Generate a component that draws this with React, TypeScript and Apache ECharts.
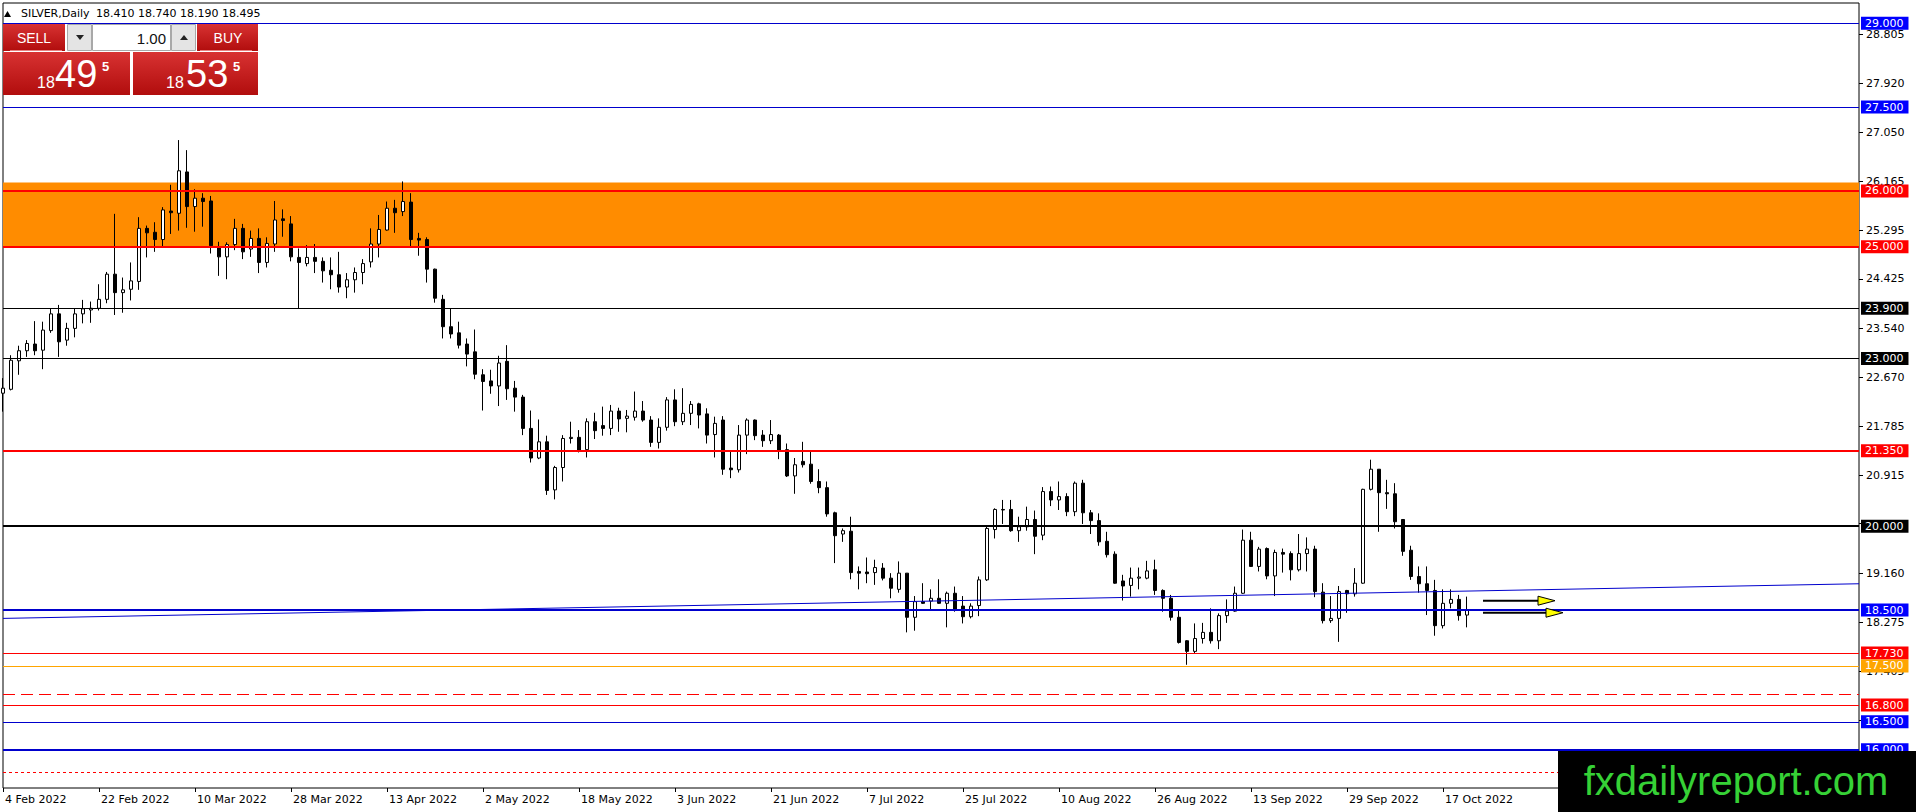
import React, { useEffect, useRef } from "react";
import * as echarts from "echarts";

// ---------- DATA ----------
const dateLabels = [
  "4 Feb 2022", "22 Feb 2022", "10 Mar 2022", "28 Mar 2022", "13 Apr 2022", "2 May 2022",
  "18 May 2022", "3 Jun 2022", "21 Jun 2022", "7 Jul 2022", "25 Jul 2022", "10 Aug 2022",
  "26 Aug 2022", "13 Sep 2022", "29 Sep 2022", "17 Oct 2022",
];
const BARS_PER_LABEL = 12;
const SLOT_COUNT = 233;

const opens = [
  22.38, 22.45, 22.96, 23.14, 23.26, 23.15, 23.5, 23.8, 23.33, 23.54,
  23.8, 23.87, 23.9, 24.06, 24.51, 24.18, 24.24, 24.38, 25.33, 25.26,
  25.13, 25.64, 25.6, 26.34, 25.72, 25.87, 25.82, 25.0, 24.82, 25.04,
  25.33, 24.96, 25.15, 24.72, 25.05, 25.5, 25.41, 24.81, 24.7, 24.81,
  24.74, 24.58, 24.5, 24.28, 24.41, 24.54, 24.73, 25.05, 25.3, 25.69,
  25.63, 25.8, 25.15, 25.13, 24.6, 24.06, 23.57, 23.46, 23.26, 23.12,
  22.71, 22.6, 22.51, 22.95, 22.47, 22.31, 21.75, 21.22, 21.51, 20.65,
  21.05, 21.57, 21.59, 21.37, 21.87, 21.8, 21.75, 22.06, 21.93, 21.95,
  22.06, 21.9, 21.5, 21.77, 22.26, 21.87, 22.02, 22.19, 22.01, 21.64,
  21.9, 21.04, 21.01, 21.63, 21.9, 21.63, 21.53, 21.63, 21.37, 20.9,
  21.16, 21.11, 20.8, 20.69, 20.24, 19.86, 19.91, 19.19, 19.18, 19.17,
  19.25, 19.07, 18.87, 19.16, 18.37, 18.65, 18.66, 18.71, 18.62, 18.8,
  18.57, 18.38, 18.58, 19.04, 19.94, 20.3, 20.3, 19.92, 19.99, 20.12,
  19.84, 20.62, 20.47, 20.53, 20.26, 20.77, 20.24, 20.1, 19.73, 19.5,
  19.02, 18.94, 19.07, 19.07, 19.22, 18.85, 18.71, 18.37, 17.95, 17.76,
  17.99, 18.1, 17.95, 18.4, 18.48, 18.8, 19.75, 19.28, 19.6, 19.11,
  19.53, 19.51, 19.22, 19.51, 19.59, 18.82, 18.31, 18.35, 18.85, 18.79,
  18.98, 20.66, 21.02, 20.6, 20.58, 20.12, 19.57, 19.1, 18.97, 18.85,
  18.22, 18.62, 18.69, 18.41,
];
const highs = [
  22.65, 23.06, 23.23, 23.33, 23.67, 23.66, 23.9, 23.96, 23.64, 23.9,
  24.05, 24.02, 24.33, 24.55, 25.59, 24.45, 24.72, 25.53, 25.38, 25.44,
  25.71, 26.11, 26.91, 26.73, 26.03, 25.96, 25.91, 25.09, 25.08, 25.5,
  25.41, 25.29, 25.33, 25.17, 25.82, 25.67, 25.55, 24.97, 25.03, 25.05,
  24.81, 24.81, 24.91, 24.53, 24.63, 24.78, 25.33, 25.57, 25.81, 25.84,
  26.17, 25.96, 25.25, 25.17, 24.61, 24.14, 23.9, 23.66, 23.36, 23.52,
  22.81, 22.8, 23.05, 23.24, 22.6, 22.35, 22.07, 21.91, 21.62, 21.08,
  21.63, 21.87, 21.72, 21.93, 22.03, 22.14, 22.17, 22.12, 22.08, 22.41,
  22.24, 21.97, 21.93, 22.31, 22.45, 22.47, 22.24, 22.21, 22.11, 21.96,
  21.97, 21.34, 21.81, 21.93, 21.91, 21.72, 21.9, 21.65, 21.48, 21.22,
  21.51, 21.34, 21.02, 20.8, 20.26, 19.96, 20.17, 19.28, 19.44, 19.4,
  19.34, 19.16, 19.37, 19.16, 18.75, 18.98, 18.87, 19.05, 18.83, 18.92,
  18.75, 18.62, 19.1, 19.99, 20.32, 20.47, 20.47, 20.17, 20.35, 20.28,
  20.7, 20.71, 20.8, 20.59, 20.8, 20.83, 20.29, 20.23, 19.9, 19.55,
  19.13, 19.26, 19.26, 19.38, 19.4, 18.87, 18.77, 18.5, 17.96, 18.26,
  18.27, 18.53, 18.44, 18.69, 18.92, 19.94, 19.9, 19.63, 19.62, 19.58,
  19.6, 19.55, 19.86, 19.8, 19.65, 18.98, 18.75, 18.93, 18.86, 19.25,
  20.67, 21.19, 21.02, 20.83, 20.77, 20.12, 19.65, 19.28, 19.28, 19.04,
  18.87, 18.87, 18.77, 18.74,
];
const lows = [
  22.05, 22.43, 22.71, 23.03, 23.06, 22.81, 23.46, 23.03, 23.23, 23.38,
  23.63, 23.64, 23.86, 23.99, 23.78, 23.82, 24.04, 24.23, 24.81, 24.91,
  25.0, 25.23, 25.29, 25.34, 25.27, 25.36, 24.88, 24.48, 24.42, 24.94,
  24.78, 24.82, 24.53, 24.63, 24.91, 25.18, 24.74, 23.9, 24.65, 24.53,
  24.36, 24.24, 24.18, 24.08, 24.18, 24.33, 24.63, 24.81, 25.29, 25.25,
  25.55, 25.0, 24.84, 24.36, 24.0, 23.36, 23.36, 23.18, 22.86, 22.63,
  22.07, 22.37, 22.15, 22.26, 22.05, 21.63, 21.14, 21.2, 20.56, 20.48,
  20.8, 21.48, 21.32, 21.23, 21.56, 21.62, 21.63, 21.69, 21.68, 21.89,
  21.87, 21.42, 21.39, 21.71, 21.79, 21.81, 21.81, 21.75, 21.48, 21.23,
  20.92, 20.86, 20.96, 21.29, 21.54, 21.42, 21.47, 21.2, 20.88, 20.58,
  21.05, 20.76, 20.59, 20.17, 19.34, 19.72, 19.05, 18.87, 18.98, 18.95,
  19.03, 18.71, 18.81, 18.1, 18.13, 18.61, 18.5, 18.61, 18.19, 18.47,
  18.26, 18.35, 18.39, 19.02, 19.78, 20.04, 19.9, 19.72, 19.92, 19.5,
  19.75, 20.36, 20.29, 20.18, 20.18, 20.04, 19.86, 19.65, 19.44, 18.97,
  18.67, 18.74, 18.87, 19.05, 18.77, 18.47, 18.31, 17.9, 17.52, 17.73,
  17.9, 17.9, 17.8, 18.27, 18.47, 18.79, 19.27, 19.19, 19.05, 18.75,
  19.17, 19.03, 19.19, 19.19, 18.73, 18.26, 18.27, 17.93, 18.45, 18.74,
  18.97, 20.64, 19.9, 20.31, 19.96, 19.47, 19.04, 18.81, 18.41, 18.04,
  18.17, 18.53, 18.31, 18.19,
];
const closes = [
  22.47, 22.97, 23.14, 23.27, 23.14, 23.51, 23.8, 23.3, 23.54, 23.8,
  23.89, 23.9, 24.06, 24.51, 24.18, 24.23, 24.39, 25.33, 25.25, 25.13,
  25.66, 25.61, 26.36, 25.72, 25.87, 25.81, 25.02, 24.82, 25.04, 25.33,
  24.91, 25.15, 24.72, 25.06, 25.48, 25.47, 24.82, 24.72, 24.81, 24.74,
  24.57, 24.5, 24.28, 24.41, 24.54, 24.7, 25.05, 25.31, 25.69, 25.61,
  25.81, 25.13, 25.12, 24.6, 24.08, 23.57, 23.44, 23.24, 23.08, 22.72,
  22.59, 22.51, 22.92, 22.46, 22.31, 21.75, 21.22, 21.51, 20.64, 21.05,
  21.57, 21.59, 21.36, 21.87, 21.71, 21.75, 22.06, 21.92, 21.97, 22.06,
  21.9, 21.5, 21.77, 22.26, 21.87, 22.02, 22.18, 21.99, 21.63, 21.84,
  21.02, 21.01, 21.63, 21.9, 21.62, 21.53, 21.64, 21.36, 20.9, 21.1,
  21.1, 20.8, 20.69, 20.22, 19.83, 19.92, 19.17, 19.16, 19.15, 19.26,
  19.07, 18.89, 19.16, 18.37, 18.65, 18.62, 18.71, 18.62, 18.8, 18.5,
  18.38, 18.57, 19.04, 19.96, 20.3, 20.29, 19.92, 19.99, 20.12, 19.82,
  20.62, 20.47, 20.53, 20.26, 20.77, 20.24, 20.1, 19.72, 19.49, 18.98,
  18.93, 19.07, 19.09, 19.2, 18.85, 18.71, 18.37, 17.92, 17.76, 17.99,
  18.1, 17.95, 18.4, 18.48, 18.8, 19.75, 19.28, 19.59, 19.11, 19.53,
  19.5, 19.22, 19.51, 19.59, 18.83, 18.31, 18.35, 18.83, 18.79, 18.98,
  20.66, 21.02, 20.6, 20.58, 20.08, 19.55, 19.1, 18.97, 18.85, 18.22,
  18.62, 18.69, 18.4, 18.495,
];

// tick marks on the price scale, and the tick labels that stay visible
const priceTicks = [
  28.805, 27.92, 27.05, 26.165, 25.295, 24.425, 23.54, 22.67, 21.785,
  20.915, 20.045, 19.16, 18.275, 17.405, 16.52, 15.65,
];
const priceTickLabels = [
  28.805, 27.92, 27.05, 26.165, 25.295, 24.425, 23.54, 22.67, 21.785,
  20.915, 19.16, 18.275, 17.405,
];
const levelValues = [29.0, 27.5, 26.0, 25.0, 23.9, 23.0, 21.35, 20.0, 18.5, 17.73, 17.5, 16.8, 16.5, 16.0];
const levelKinds = ["blue", "blue", "red", "red", "black", "black", "red", "black", "blue", "red", "orange", "red", "blue", "blue"];
const dashedLevel = 17.0;
const dottedLevel = 15.6;
const zoneBounds = [25.0, 26.15];
const trendline = [[0, 18.35], [232, 18.97]];
const arrows = [[185, 194, 18.667], [185, 195, 18.452]];

const symbolName = "SILVER,Daily";
const lastQuote = ["18.410", "18.740", "18.190", "18.495"];
const sellQuote = ["18", "49", "5"];
const buyQuote = ["18", "53", "5"];
const lotSize = "1.00";
const brand = "fxdailyreport.com";

// ---------- STYLE ----------
const KIND_STYLE: Record<string, { line: string; label: string }> = {
  blue: { line: "#0000CD", label: "#0000FF" },
  red: { line: "#FF0000", label: "#FF0000" },
  black: { line: "#000000", label: "#000000" },
  orange: { line: "#FFA500", label: "#FFA500" },
};
const THICK = new Set([26.0, 25.0, 21.35, 20.0, 18.5, 16.0]);
const FONT = "DejaVu Sans";

export default function App() {
  const ref = useRef<HTMLDivElement>(null);

  useEffect(() => {
    if (!ref.current) return;
    const chart = echarts.init(ref.current, undefined, { renderer: "svg" });

    const categories = Array.from({ length: SLOT_COUNT }, (_, i) => String(i));
    const candles = opens.map((o, i) => [o, closes[i], lows[i], highs[i]]);
    const showDate = (idx: number) => idx % BARS_PER_LABEL === 0 && idx / BARS_PER_LABEL < dateLabels.length;

    const levelLines: any[] = levelValues.map((v, i) => {
      const st = KIND_STYLE[levelKinds[i]];
      return {
        yAxis: v,
        lineStyle: { color: st.line, width: THICK.has(v) ? 2 : 1, type: "solid" },
        label: {
          show: true,
          position: "end",
          distance: 2,
          formatter: () => v.toFixed(3),
          color: "#fff",
          backgroundColor: st.label,
          padding: [1, 5, 0, 4],
          fontSize: 11,
          lineHeight: 12,
          fontFamily: FONT,
        },
      };
    });
    levelLines.push({
      yAxis: dashedLevel,
      lineStyle: { color: "#FF0000", width: 1, type: [12, 6] },
      label: { show: false },
    });
    levelLines.push({
      yAxis: dottedLevel,
      lineStyle: { color: "#FF0000", width: 1, type: [3, 3] },
      label: { show: false },
    });

    const redGrad = () =>
      new echarts.graphic.LinearGradient(0, 0, 0, 1, [
        { offset: 0, color: "#d83232" },
        { offset: 1, color: "#b10d0d" },
      ]);
    const Z = 100;
    const txt = (text: string, x: number, y: number, font: string, fill: string, align = "left") => ({
      type: "text",
      z: Z + 1,
      style: { text, x, y, font, fill, align, verticalAlign: "middle" },
    });

    const graphics: any[] = [
      // header
      { type: "polygon", z: Z, shape: { points: [[4, 17], [11, 17], [7.5, 11]] }, style: { fill: "#000" } },
      txt(symbolName, 21, 13, `11px "${FONT}"`, "#000"),
      txt(lastQuote.join(" "), 96, 13, `11px "${FONT}"`, "#000"),
      // one-click panel, top row
      { type: "rect", z: Z, shape: { x: 3, y: 24, width: 62, height: 27 }, style: { fill: redGrad() } },
      { type: "line", z: Z + 1, shape: { x1: 10, y1: 50.5, x2: 62, y2: 50.5 }, style: { stroke: "#e88080", lineWidth: 1 } },
      txt("SELL", 34, 38, `14px "Liberation Sans"`, "#fff", "center"),
      { type: "rect", z: Z, shape: { x: 67.5, y: 24.5, width: 24, height: 26 }, style: { fill: "#e4e4e4", stroke: "#a8a8a8", lineWidth: 1 } },
      { type: "polygon", z: Z + 1, shape: { points: [[76, 35], [84, 35], [80, 40]] }, style: { fill: "#222" } },
      { type: "rect", z: Z, shape: { x: 92.5, y: 24.5, width: 78, height: 26 }, style: { fill: "#fff", stroke: "#a8a8a8", lineWidth: 1 } },
      txt(lotSize, 166, 38, `15px "Liberation Sans"`, "#111", "right"),
      { type: "rect", z: Z, shape: { x: 171.5, y: 24.5, width: 24, height: 26 }, style: { fill: "#e4e4e4", stroke: "#a8a8a8", lineWidth: 1 } },
      { type: "polygon", z: Z + 1, shape: { points: [[180, 40], [188, 40], [184, 35]] }, style: { fill: "#222" } },
      { type: "rect", z: Z, shape: { x: 197, y: 24, width: 61, height: 27 }, style: { fill: redGrad() } },
      { type: "line", z: Z + 1, shape: { x1: 200, y1: 50.5, x2: 252, y2: 50.5 }, style: { stroke: "#e88080", lineWidth: 1 } },
      txt("BUY", 228, 38, `14px "Liberation Sans"`, "#fff", "center"),
      // bottom row
      { type: "rect", z: Z, shape: { x: 3, y: 52, width: 127, height: 43 }, style: { fill: redGrad() } },
      { type: "rect", z: Z, shape: { x: 133, y: 52, width: 125, height: 43 }, style: { fill: redGrad() } },
      txt(sellQuote[0], 37, 82, `16px "Liberation Sans"`, "#fff"),
      txt(sellQuote[1], 55, 74, `38px "Liberation Sans"`, "#fff"),
      txt(sellQuote[2], 102, 66, `bold 13px "Liberation Sans"`, "#fff"),
      txt(buyQuote[0], 166, 82, `16px "Liberation Sans"`, "#fff"),
      txt(buyQuote[1], 186, 74, `38px "Liberation Sans"`, "#fff"),
      txt(buyQuote[2], 233, 66, `bold 13px "Liberation Sans"`, "#fff"),
      // brand box
      { type: "rect", z: Z, shape: { x: 1558, y: 751, width: 358, height: 61 }, style: { fill: "#000" } },
      txt(brand, 1736, 781, `40px "Liberation Sans"`, "#36d136", "center"),
    ];

    chart.setOption({
      animation: false,
      backgroundColor: "#fff",
      grid: {
        left: 3,
        right: 57,
        top: 3,
        bottom: 24,
        show: true,
        borderColor: "#000",
        borderWidth: 1,
        backgroundColor: "#fff",
        containLabel: false,
        outerBoundsMode: "none",
      },
      xAxis: {
        type: "category",
        data: categories,
        boundaryGap: false,
        axisLine: { show: false },
        axisTick: { show: true, interval: (i: number) => showDate(i), length: 4, lineStyle: { color: "#000" } },
        axisLabel: {
          interval: (i: number) => showDate(i),
          formatter: (_v: string, i: number) => (showDate(i) ? dateLabels[i / BARS_PER_LABEL] : ""),
          align: "left",
          margin: 6,
          padding: [0, 0, 0, 2],
          color: "#000",
          fontSize: 11,
          fontFamily: FONT,
        },
        splitLine: { show: false },
      },
      yAxis: {
        type: "value",
        position: "right",
        min: 15.315,
        max: 29.363,
        splitLine: { show: false },
        axisLine: { show: false },
        axisTick: { show: true, customValues: priceTicks, length: 4, lineStyle: { color: "#000" } },
        axisLabel: {
          customValues: priceTickLabels,
          formatter: (v: number) => v.toFixed(3),
          margin: 7,
          color: "#000",
          fontSize: 11,
          fontFamily: FONT,
        },
      },
      series: [
        {
          type: "candlestick",
          data: candles,
          barWidth: 4,
          z: 2,
          itemStyle: {
            color: "#ffffff",
            color0: "#000000",
            borderColor: "#000000",
            borderColor0: "#000000",
            borderWidth: 1,
          },
          markArea: {
            silent: true,
            itemStyle: { color: "#FF8C00", opacity: 1 },
            data: [[{ yAxis: zoneBounds[0] }, { yAxis: zoneBounds[1] }]],
          },
        },
        {
          type: "line",
          data: trendline,
          symbol: "none",
          z: 5,
          clip: false,
          lineStyle: { color: "#0000CD", width: 1 },
          markLine: {
            silent: true,
            symbol: ["none", "none"],
            animation: false,
            data: levelLines,
          },
        },
        {
          type: "custom",
          z: 6,
          clip: false,
          data: arrows,
          encode: { x: [0, 1], y: 2 },
          renderItem: (_p: any, api: any) => {
            const tail = api.coord([api.value(0), api.value(2)]);
            const tip = api.coord([api.value(1), api.value(2)]);
            const headLen = 17;
            const half = 4.5;
            return {
              type: "group",
              children: [
                {
                  type: "line",
                  shape: { x1: tail[0], y1: tail[1], x2: tip[0] - headLen, y2: tip[1] },
                  style: { stroke: "#000", lineWidth: 2 },
                },
                {
                  type: "polygon",
                  shape: {
                    points: [
                      [tip[0] - headLen, tip[1] - half],
                      [tip[0], tip[1]],
                      [tip[0] - headLen, tip[1] + half],
                    ],
                  },
                  style: { fill: "#FFFF00", stroke: "#000", lineWidth: 1 },
                },
              ],
            };
          },
        },
      ],
      graphic: { elements: graphics },
    });

    return () => chart.dispose();
  }, []);

  return (
    <div
      ref={ref}
      style={{ position: "fixed", left: 0, top: 0, width: 1916, height: 812, background: "#fff" }}
    />
  );
}
